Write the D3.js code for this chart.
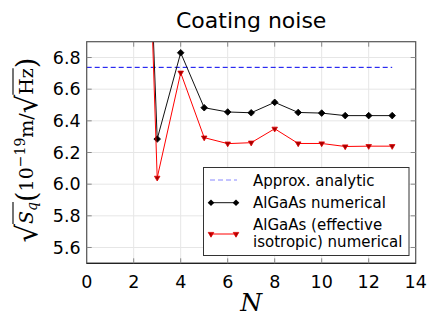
<!DOCTYPE html>
<html>
<head>
<meta charset="utf-8">
<script src="https://cdn.jsdelivr.net/npm/d3@7"></script>
<style>
  body { margin: 0; background: #fff; }
  text { font-family: "DejaVu Sans", sans-serif; }
</style>
</head>
<body>
<svg width="436" height="327"></svg>
<script>
// values
let N = [2, 3, 4, 5, 6, 7, 8, 9, 10, 11, 12, 13];
let numerical = [10.2, 6.285, 6.83, 6.483, 6.456, 6.451, 6.517, 6.453, 6.449, 6.433, 6.433, 6.433];
let isotropic = [10.5, 6.04, 6.704, 6.294, 6.256, 6.262, 6.35, 6.257, 6.257, 6.238, 6.24, 6.24];
let analytic = 6.738;
let analyticSpan = [0, 13];
let xTicks = [0, 2, 4, 6, 8, 10, 12, 14];
let yTicks = [5.6, 5.8, 6.0, 6.2, 6.4, 6.6, 6.8];
let legendLabels = ["Approx. analytic", "AlGaAs numerical", ["AlGaAs (effective", "isotropic) numerical"]];

let svg = d3.select("svg");
let pLeft = 86.7, pRight = 415.7, pTop = 41.7, pBottom = 263.3;

let x = d3.scaleLinear().domain([0, 14]).range([pLeft, pRight]);
let y = d3.scaleLinear().domain([5.5, 6.9]).range([pBottom, pTop]);

// grid
svg.append("g").selectAll("line")
  .data(xTicks)
  .enter().append("line")
    .attr("x1", d => x(d)).attr("x2", d => x(d))
    .attr("y1", pTop).attr("y2", pBottom)
    .attr("stroke", "#e6e6e6");
svg.append("g").selectAll("line")
  .data(yTicks)
  .enter().append("line")
    .attr("x1", pLeft).attr("x2", pRight)
    .attr("y1", d => y(d)).attr("y2", d => y(d))
    .attr("stroke", "#e6e6e6");

svg.append("defs").append("clipPath").attr("id", "clip")
  .append("rect")
    .attr("x", pLeft).attr("y", pTop)
    .attr("width", pRight - pLeft).attr("height", pBottom - pTop);

let plot = svg.append("g").attr("clip-path", "url(#clip)");

// analytic level
plot.append("line")
  .attr("x1", x(analyticSpan[0])).attr("x2", x(analyticSpan[1]))
  .attr("y1", y(analytic)).attr("y2", y(analytic))
  .attr("stroke", "#0000ee")
  .attr("stroke-width", 1)
  .attr("stroke-dasharray", "5,3");

let line = d3.line().x(d => x(d[0])).y(d => y(d[1]));
let diamond = d3.symbol().type(d3.symbolDiamond2).size(28);
let tri = d3.symbol().type(d3.symbolTriangle2).size(22);

function series(vals, color, sym, fill, stroke) {
  let pts = N.map((n, i) => [n, vals[i]]);
  plot.append("path")
    .datum(pts)
    .attr("fill", "none")
    .attr("stroke", color)
    .attr("stroke-width", 1)
    .attr("d", line);
  plot.append("g").selectAll("path")
    .data(pts)
    .enter().append("path")
      .attr("d", sym)
      .attr("transform", d => `translate(${x(d[0])},${y(d[1])})` + (sym === tri ? " rotate(180)" : ""))
      .attr("fill", fill)
      .attr("stroke", stroke)
      .attr("stroke-width", 0.8);
}
series(numerical, "#111", diamond, "#000", "#000");
series(isotropic, "#ff0000", tri, "#a00000", "#e00000");

// spines
svg.append("rect")
  .attr("x", pLeft).attr("y", pTop)
  .attr("width", pRight - pLeft).attr("height", pBottom - pTop)
  .attr("fill", "none").attr("stroke", "#555").attr("stroke-width", 1.2);
svg.append("line")
  .attr("x1", pLeft).attr("x2", pRight).attr("y1", pBottom).attr("y2", pBottom)
  .attr("stroke", "#222").attr("stroke-width", 1.2);

// ticks, pointing in on all four sides
let tl = 5;
svg.append("g").selectAll("line")
  .data(xTicks.slice(1, -1))
  .enter().append("line")
    .attr("x1", d => x(d)).attr("x2", d => x(d))
    .attr("y1", pBottom).attr("y2", pBottom - tl)
    .attr("stroke", "#888");
svg.append("g").selectAll("line")
  .data(xTicks.slice(1, -1))
  .enter().append("line")
    .attr("x1", d => x(d)).attr("x2", d => x(d))
    .attr("y1", pTop).attr("y2", pTop + tl)
    .attr("stroke", "#888");
svg.append("g").selectAll("line")
  .data(yTicks)
  .enter().append("line")
    .attr("x1", pLeft).attr("x2", pLeft + tl)
    .attr("y1", d => y(d)).attr("y2", d => y(d))
    .attr("stroke", "#888");
svg.append("g").selectAll("line")
  .data(yTicks)
  .enter().append("line")
    .attr("x1", pRight).attr("x2", pRight - tl)
    .attr("y1", d => y(d)).attr("y2", d => y(d))
    .attr("stroke", "#888");

// tick labels
svg.append("g").selectAll("text")
  .data(xTicks)
  .enter().append("text")
    .attr("x", d => x(d))
    .attr("y", 287.5)
    .attr("text-anchor", "middle")
    .attr("font-size", 17.5)
    .text(d => d);
svg.append("g").selectAll("text")
  .data(yTicks)
  .enter().append("text")
    .attr("x", pLeft - 6)
    .attr("y", d => y(d) + 6.2)
    .attr("text-anchor", "end")
    .attr("font-size", 17.5)
    .text(d => d3.format(".1f")(d));

// title and x label
svg.append("text")
  .attr("x", (pLeft + pRight) / 2)
  .attr("y", 28)
  .attr("text-anchor", "middle")
  .attr("font-size", 22)
  .text("Coating noise");
svg.append("text")
  .attr("x", (pLeft + pRight) / 2)
  .attr("y", 311)
  .attr("text-anchor", "middle")
  .attr("font-size", 25)
  .style("font-family", "'DejaVu Serif', serif")
  .style("font-style", "italic")
  .text("N");

// y label, laid out piece by piece
let ylab = svg.append("g").attr("transform", "translate(33,150) rotate(-90)");
let pieces = [
  { t: "√", size: 29, dy: 4 },
  { t: "S", size: 19, it: true, over: true },
  { t: "q", size: 14, it: true, dy: 4, over: true },
  { t: "(", size: 27, dy: 3 },
  { t: "10", size: 19 },
  { t: "−19", size: 14, dy: -8 },
  { t: "m", size: 19 },
  { t: "/", size: 19 },
  { t: "√", size: 29, dy: 4 },
  { t: "Hz", size: 19, over: true },
  { t: ")", size: 27, dy: 3 }
];
let cx = 0, overs = [];
pieces.forEach(p => {
  let t = ylab.append("text")
    .attr("x", cx).attr("y", p.dy || 0)
    .attr("font-size", p.size)
    .style("font-family", "'DejaVu Serif', serif")
    .style("font-style", p.it ? "italic" : "normal")
    .text(p.t);
  let w = t.node().getComputedTextLength();
  if (p.over) overs.push([cx, cx + w]);
  cx += w;
});
let shift = -cx / 2;
ylab.selectAll("text").attr("x", function() { return +d3.select(this).attr("x") + shift; });
ylab.append("line")
  .attr("x1", overs[0][0] + shift).attr("x2", overs[1][1] + shift)
  .attr("y1", -20).attr("y2", -20).attr("stroke", "#000").attr("stroke-width", 1.1);
ylab.append("line")
  .attr("x1", overs[2][0] + shift).attr("x2", overs[2][1] + shift)
  .attr("y1", -20).attr("y2", -20).attr("stroke", "#000").attr("stroke-width", 1.1);

// legend
let lg = svg.append("g");
lg.append("rect")
  .attr("x", 203.5).attr("y", 167.5)
  .attr("width", 205.5).attr("height", 88)
  .attr("fill", "#fff").attr("stroke", "#333");
lg.append("line")
  .attr("x1", 210).attr("x2", 237).attr("y1", 180).attr("y2", 180)
  .attr("stroke", "#8888ff").attr("stroke-dasharray", "5,3");
lg.append("line")
  .attr("x1", 211).attr("x2", 236).attr("y1", 202.7).attr("y2", 202.7)
  .attr("stroke", "#111");
[211, 236].forEach(px => {
  lg.append("path").attr("d", diamond).attr("transform", `translate(${px},202.7)`).attr("fill", "#000");
  lg.append("path").attr("d", tri).attr("transform", `translate(${px},234) rotate(180)`)
    .attr("fill", "#a00000").attr("stroke", "#e00000").attr("stroke-width", 0.8);
});
lg.append("line")
  .attr("x1", 211).attr("x2", 236).attr("y1", 234).attr("y2", 234)
  .attr("stroke", "#ff0000");
lg.append("text").attr("x", 253).attr("y", 186).attr("font-size", 15).text(legendLabels[0]);
lg.append("text").attr("x", 253).attr("y", 208).attr("font-size", 15).text(legendLabels[1]);
lg.append("text").attr("x", 253).attr("y", 229.5).attr("font-size", 15).text(legendLabels[2][0]);
lg.append("text").attr("x", 253).attr("y", 246.5).attr("font-size", 15).text(legendLabels[2][1]);
</script>
</body>
</html>
